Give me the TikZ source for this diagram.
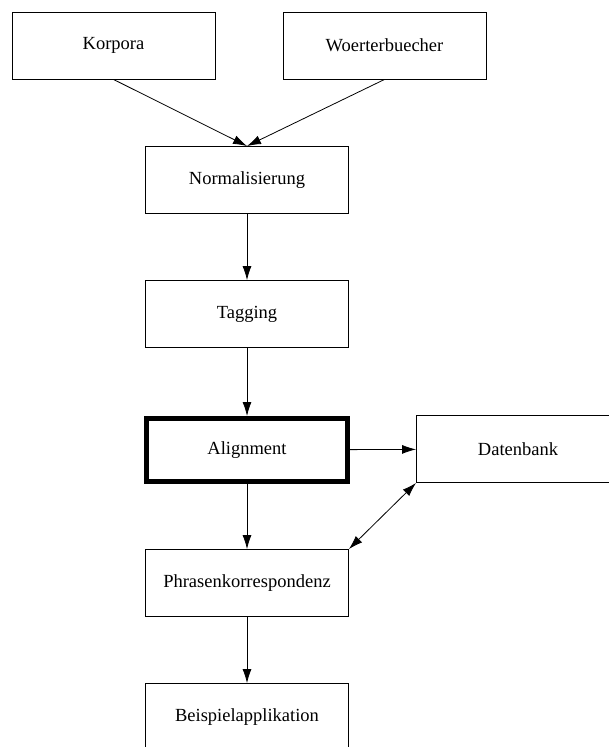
\documentclass[tikz,border=0pt]{standalone}
\usepackage{fontspec}
\setmainfont{Liberation Serif}
\usetikzlibrary{arrows.meta}
\begin{document}
\begin{tikzpicture}[x=1pt,y=-1pt,
  stage/.style={draw, line width=0.9pt, minimum width=203pt, minimum height=67pt,
    inner sep=0pt, font=\fontsize{18.5}{21}\selectfont},
  keystage/.style={stage, line width=5pt, minimum width=201pt, minimum height=63pt},
  flow/.style={line width=0.8pt, -{Latex[length=14pt,width=9pt]}},
  both/.style={line width=0.8pt, {Latex[length=14pt,width=9pt]}-{Latex[length=14pt,width=9pt]}}]
\useasboundingbox (0,0) rectangle (609,747);
\node[stage] (korpora) at (113.5,45.5) {Korpora};
\node[stage] (woerter) at (384.5,45.5) {Woerterbuecher};
\node[stage] (norm) at (247,180) {Normalisierung};
\node[stage] (tag) at (247,314) {Tagging};
\node[keystage] (align) at (247,450) {Alignment};
\node[stage] (db) at (518,449) {Datenbank};
\node[stage] (phrase) at (247,583) {Phrasenkorrespondenz};
\node[stage] (beispiel) at (247,717) {Beispielapplikation};
\draw[flow] (korpora.south) -- (norm.north);
\draw[flow] (woerter.south) -- (norm.north);
\draw[flow] (norm) -- (tag);
\draw[flow] (tag) -- (align);
\draw[flow] (align) -- (db);
\draw[flow] (align) -- (phrase);
\draw[both] (db.south west) -- (phrase.north east);
\draw[flow] (phrase) -- (beispiel);
\end{tikzpicture}
\end{document}
